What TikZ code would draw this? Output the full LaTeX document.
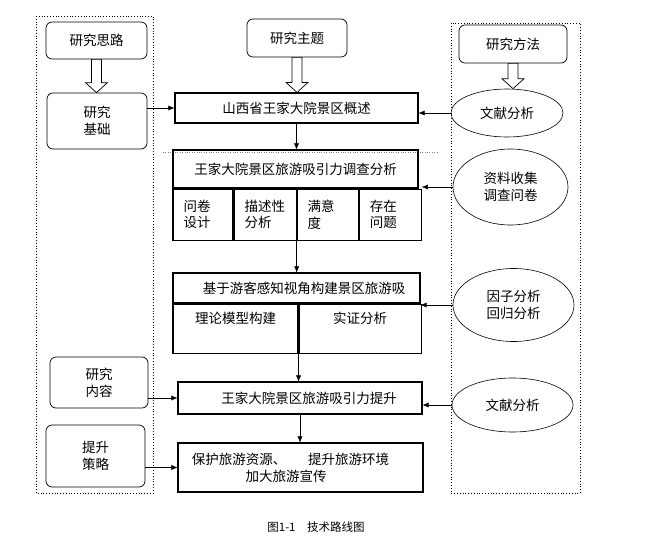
\documentclass[tikz,border=0pt]{standalone}
\usepackage{fontspec}
\setmainfont{Noto Sans CJK SC}
\usetikzlibrary{arrows.meta,shapes.geometric,positioning,calc}
\tikzstyle{roadmapstyle}=[
    x=1pt, y=-1pt,
    >={Latex[length=6pt,width=5pt]},
    font=\fontsize{13.5}{17}\selectfont,
    every node/.style={inner sep=0pt, align=center},
]
\tikzstyle{sidebox}=[draw, rounded corners=6pt, line width=0.7pt]
\tikzstyle{mainbox}=[draw, line width=1.1pt]
\tikzstyle{cellbox}=[draw, line width=1.1pt, align=left, inner xsep=10.5pt,
    font=\fontsize{13.5}{16.5}\selectfont]
\tikzstyle{halfbox}=[draw, line width=1.1pt, minimum height=49pt]
\tikzstyle{toptext}=[anchor=north, yshift=-8pt]
\tikzstyle{oval}=[draw, ellipse, line width=0.6pt]
\tikzstyle{frame}=[draw, dotted, line width=0.8pt]
\newcommand{\fatarrow}[2]{%
    \draw[fill=white, line width=0.7pt] let \p1=(#1.south), \p2=(#2.north) in
        (\x1-5pt,\y1) -- (\x1-5pt,\y2+10pt) -- (\x1-11pt,\y2+10pt) -- (\x1,\y2)
        -- (\x1+11pt,\y2+10pt) -- (\x1+5pt,\y2+10pt) -- (\x1+5pt,\y1) -- cycle;}

\begin{document}
\begin{tikzpicture}[roadmapstyle]
        \useasboundingbox (0,0) rectangle (648,538);
        \draw[frame] (36,16) rectangle (153,493);
        \draw[frame] (451,23) rectangle (580,493);
        \draw[dotted, gray] (163,152) -- (437,152);

        \node (l1) at (96.5,40.5) [sidebox, minimum width=101pt, minimum height=37pt] {研究思路};
        \node (l2) at (97,121) [sidebox, minimum width=100pt, minimum height=56pt] {研究\\基础};
        \node (l3) at (99,382.5) [sidebox, minimum width=98pt, minimum height=51pt] {研究\\内容};
        \node (l4) at (95.5,456) [sidebox, minimum width=99pt, minimum height=62pt] {提升\\策略};

        \node (t) at (297,38) [sidebox, minimum width=100pt, minimum height=38pt] {研究主题};
        \node (b1) at (296.5,108) [mainbox, minimum width=243pt, minimum height=30pt] {山西省王家大院景区概述};
        \node (b2t) at (295.5,169) [mainbox, minimum width=245pt, minimum height=38pt] {王家大院景区旅游吸引力调查分析};
        \node (c1) [cellbox, below right=0pt and 0pt of b2t.south west, text width=39pt, minimum height=51pt] {问卷\\设计};
        \node (c2) [cellbox, right=0pt of c1, text width=41pt, minimum height=51pt] {描述性\\分析};
        \node (c3) [cellbox, right=0pt of c2, text width=40pt, minimum height=51pt] {满意\\度};
        \node (c4) [cellbox, right=0pt of c3, text width=41pt, minimum height=51pt] {存在\\问题};
        \node (b3t) at (296.5,288) [mainbox, minimum width=247pt, minimum height=30pt] {\hspace*{15pt}基于游客感知视角构建景区旅游吸};
        \node (m1) [halfbox, below right=0pt and 0pt of b3t.south west, minimum width=125pt,
            label={[toptext]north:理论模型构建}] {};
        \node (m2) [halfbox, right=0pt of m1, minimum width=122pt,
            label={[toptext]north:实证分析}] {};
        \node (b4) at (300,398) [mainbox, minimum width=244pt, minimum height=32pt] {\hspace*{18pt}王家大院景区旅游吸引力提升};
        \node (b5) at (300.5,467.5) [mainbox, minimum width=245pt, minimum height=49pt]
            {保护旅游资源、\hspace{22pt}提升旅游环境\hspace*{20pt}\\加大旅游宣传\hspace*{29pt}};

        \node (r0) at (513,44) [sidebox, minimum width=108pt, minimum height=38pt] {研究方法};
        \node (e1) at (507,113) [oval, minimum width=112pt, minimum height=48pt] {文献分析};
        \node (e2) at (510.5,187) [oval, minimum width=115pt, minimum height=76pt] {资料收集\\调查问卷};
        \node (e3) at (513.5,305) [oval, minimum width=121pt, minimum height=73pt] {因子分析\\回归分析};
        \node (e4) at (512.5,405) [oval, minimum width=121pt, minimum height=54pt] {文献分析};

        \node (cap) at (316,527) [font=\fontsize{11.5}{14}\selectfont] {图1-1\hspace{1em}技术路线图};

        \fatarrow{l1}{l2}
        \fatarrow{t}{b1}
        \fatarrow{r0}{e1}

        \draw[->] (b1.south) -- (b1.south |- b2t.north);
        \draw[->] (c2.south east) -- (c2.south east |- b3t.north);
        \draw[->] (m1.south east) -- (m1.south east |- b4.north);
        \draw[->] (b4.south) -- (b4.south |- b5.north);

        \draw[->] (l2.east |- b1.west) -- (b1.west);
        \draw[->] (l3.east |- b4.west) -- (b4.west);
        \draw[->] (l4.east |- b5.west) -- (b5.west);

        \draw[->] (e1.west) -- (e1.west -| b1.east);
        \draw[->] (e2.west) -- (e2.west -| c4.east);
        \draw[->] (e3.west) -- (e3.west -| b3t.east);
        \draw[->] (e4.west) -- (e4.west -| b4.east);
    \end{tikzpicture}
\end{document}
